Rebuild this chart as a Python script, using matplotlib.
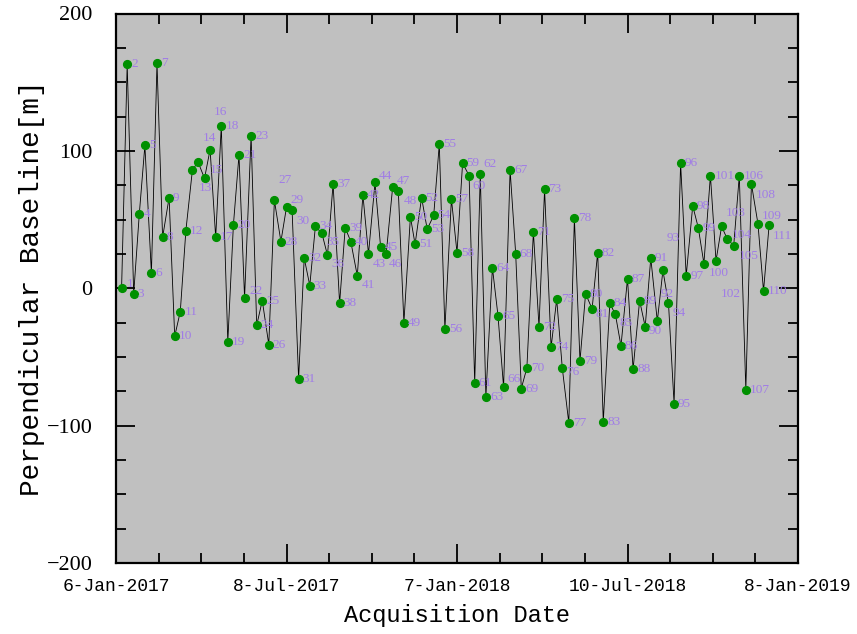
import numpy as np
import matplotlib
matplotlib.use("Agg")
import matplotlib.pyplot as plt
import matplotlib.dates as mdates
from matplotlib.ticker import FixedLocator, MultipleLocator

# acquisition days, counted from 6-Jan-2017
days = [6, 12, 19, 25, 31, 38, 44, 50, 57, 63, 69, 75, 82, 88, 95, 101, 107, 113,
        120, 126, 132, 138, 145, 151, 157, 164, 170, 177, 183, 189, 196, 202, 208,
        214, 221, 227, 233, 240, 246, 252, 259, 265, 271, 278, 284, 290, 297, 303,
        309, 316, 321, 328, 334, 341, 347, 353, 360, 366, 372, 379, 385, 391, 397,
        404, 410, 416, 423, 429, 435, 441, 448, 454, 460, 467, 473, 479, 486, 492,
        498, 504, 511, 517, 523, 530, 536, 542, 549, 555, 562, 568, 574, 581, 587,
        593, 599, 606, 612, 619, 625, 631, 638, 644, 650, 656, 663, 669, 676, 682,
        689, 695, 701]

# perpendicular baseline [m]
bperp = [0, 163, -4, 54, 104, 11, 164, 37, 66, -35, -17, 42, 86, 92, 80, 101, 37, 118,
         -39, 46, 97, -7, 111, -27, -9, -41, 64, 34, 59, 57, -66, 22, 2,
         45, 40, 24, 76, -11, 44, 34, 9, 68, 25, 77, 30, 25, 74, 71,
         -25, 52, 32, 66, 43, 53, 105, -30, 65, 26, 91, 82, -69, 83, -79,
         15, -20, -72, 86, 25, -73, -58, 41, -28, 72, -43, -8, -58, -98, 51,
         -53, -4, -15, 26, -97, -11, -19, -42, 7, -59, -9, -28, 22, -24, 13,
         -11, -84, 91, 9, 60, 44, 18, 82, 20, 45, 36, 31, 82, -74, 76,
         47, -2, 46]

start = np.datetime64("2017-01-06")
end = np.datetime64("2019-01-08")
tick_labels = ["6-Jan-2017", "8-Jul-2017", "7-Jan-2018", "10-Jul-2018", "8-Jan-2019"]

dates = start + np.array(days).astype("timedelta64[D]")
xs = mdates.date2num(dates.astype("datetime64[s]").astype(object))
x0 = mdates.date2num(start.astype("datetime64[s]").astype(object))
x1 = mdates.date2num(end.astype("datetime64[s]").astype(object))

# label offsets in pixels (dx right, dy down), default is just right of the dot
label_off = {1: (5, -4), 13: (6, 18), 14: (5, -24), 15: (5, -8), 16: (4, -38),
             22: (5, -7), 27: (4, -20), 29: (4, -7), 30: (4, 11), 35: (4, 9),
             36: (4, 9), 41: (4, 9), 43: (4, 10), 44: (4, -6), 46: (3, 10),
             47: (4, -6), 48: (5, 10), 60: (3, 10), 62: (3, -10), 66: (4, -8),
             76: (4, 4), 81: (3, 5), 85: (4, 9), 90: (3, 4), 92: (3, -27),
             93: (4, -32), 94: (4, 10), 100: (5, 9), 102: (5, 33), 103: (4, -13),
             104: (5, -4), 105: (5, 10), 108: (4, 11), 109: (4, -8), 111: (4, 11)}

fig = plt.figure(figsize=(8.57, 6.34), dpi=100)
ax = fig.add_axes([116 / 857, 71 / 634, 682 / 857, 549.5 / 634])
ax.set_facecolor("#c0c0c0")

ax.plot(xs, bperp, color="black", lw=0.6, zorder=2)
ax.plot(xs, bperp, "o", color="#009000", ms=5.6, mec="#009000", zorder=3)

for i, (x, y) in enumerate(zip(xs, bperp)):
    n = i + 1
    dx, dy = label_off.get(n, (4, 0))
    ax.annotate(str(n), (x, y), xytext=(dx, -dy), textcoords="offset pixels",
                ha="left", va="center", fontsize=9.5, color="#a07ce6",
                family="Liberation Serif", zorder=4)

ax.set_xlim(x0, x1)
ax.set_ylim(-200, 200)

ax.xaxis.set_major_locator(FixedLocator(np.linspace(x0, x1, 5)))
ax.xaxis.set_minor_locator(FixedLocator(np.linspace(x0, x1, 17)))
ax.set_xticklabels(tick_labels, family="Liberation Mono", fontsize=13)
ax.yaxis.set_major_locator(MultipleLocator(100))
ax.yaxis.set_minor_locator(MultipleLocator(25))
for lab in ax.get_yticklabels():
    lab.set_family("Liberation Serif")
    lab.set_fontsize(16)

ax.tick_params(which="both", direction="in", top=True, right=True, width=1.3)
ax.tick_params(which="major", length=14)
ax.tick_params(which="minor", length=7)
ax.tick_params(axis="y", pad=17)
ax.tick_params(axis="x", pad=11)
for s in ax.spines.values():
    s.set_linewidth(1.6)

ax.set_xlabel("Acquisition Date", family="Liberation Mono", fontsize=17, labelpad=6)
ax.set_ylabel("Perpendicular Baseline[m]", family="Liberation Mono", fontsize=20, labelpad=1)

fig.savefig("out.png", dpi=100)
